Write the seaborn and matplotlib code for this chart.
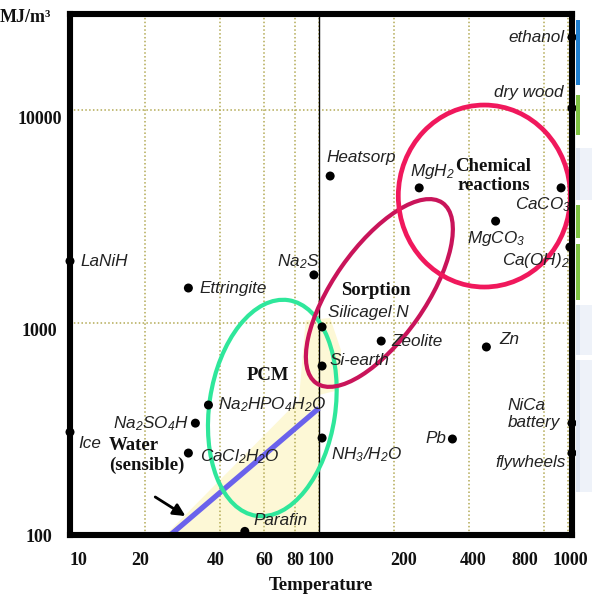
import numpy as np
import pandas as pd
import matplotlib
matplotlib.use("Agg")
import matplotlib.pyplot as plt
import seaborn as sns
from matplotlib.patches import Ellipse, Polygon, Rectangle
from matplotlib.transforms import ScaledTranslation

# ---- data -------------------------------------------------------------
materials = ["ethanol", "dry wood", "CaCO3", "Ca(OH)2", "MgH2", "MgCO3",
             "Heatsorp", "Na2S", "LaNiH", "Ettringite", "Silicagel N",
             "Zeolite", "Si-earth", "Zn", "Na2HPO4H2O", "Na2SO4H", "Ice",
             "CaCl2H2O", "NH3/H2O", "Pb", "NiCa battery", "flywheels",
             "Parafin"]
temperature = [1040, 1040, 940, 1020, 253, 513,
               111, 95.5, 10, 29.9, 103,
               178, 103, 471, 36, 31.9, 10,
               29.9, 103, 344, 1040, 1040,
               50.4]
energy_density = [22000, 10200, 4300, 2265, 4300, 3000,
                  4890, 1675, 1945, 1453, 953,
                  818, 624, 767, 409, 336, 305,
                  243, 286, 283, 336, 243,
                  104]
label_text = ["ethanol", "dry wood", "CaCO$_3$", "Ca(OH)$_2$", "MgH$_2$",
              "MgCO$_3$", "Heatsorp", "Na$_2$S", "LaNiH", "Ettringite",
              "Silicagel N", "Zeolite", "Si-earth", "Zn",
              "Na$_2$HPO$_4$H$_2$O", "Na$_2$SO$_4$H", "Ice",
              "CaCl$_2$H$_2$O", "NH$_3$/H$_2$O", "Pb", "NiCa\nbattery",
              "flywheels", "Parafin"]

# sensible heat of water (line) and the group outlines
water_temp = [25.3, 100]
water_density = [100, 395]

group_names = ["PCM", "Sorption", "Chemical\nreactions"]
group_center_temp = [65, 175, 462]
group_center_density = [396, 1377, 3937]

x_ticks = [10, 20, 40, 60, 80, 100, 200, 400, 800, 1000]
x_tick_labels = ["10", "20", "40", "60", "80", "100", "200", "400", "800", "1000"]
y_ticks = [100, 1000, 10000]
y_tick_labels = ["100", "1000", "10000"]

# ---- styling ----------------------------------------------------------
# label placement (offset in pixels from the point, horizontal alignment)
label_offset = [(-8, 0), (-8, 16), (10, -17), (0, -13), (13, 16), (0, -17),
                (-4, 19), (5, 13), (10, 0), (11, 0), (6, 14),
                (10, 0), (7, 6), (13, 7), (10, 0), (-7, 0), (8, -11),
                (12, -4), (9, -17), (-6, 0), (-12, 9), (-6, -9),
                (9, 11)]
label_ha = ["right", "right", "right", "right", "center", "center",
            "left", "right", "left", "left", "left",
            "left", "left", "left", "left", "right", "left",
            "left", "left", "right", "right", "right",
            "left"]
# tick label nudges (pixels)
x_tick_shift = [8, -5, -4, 1, 1, 2, 10, 4, -19, 3]
y_tick_shift = [(-5, 0), (0, -7), (5, -7)]

sns.set_theme(style="white")
plt.rcParams["mathtext.fontset"] = "custom"
plt.rcParams["mathtext.rm"] = "Liberation Sans:italic"
plt.rcParams["mathtext.it"] = "Liberation Sans:italic"
plt.rcParams["mathtext.sf"] = "Liberation Sans:italic"

serif_bold = dict(family="Liberation Serif", weight="bold")

fig = plt.figure(figsize=(5.92, 6.03), dpi=100)
ax = fig.add_axes([70 / 592, 68 / 603, 502 / 592, 521 / 603])
ax.set_xscale("log")
ax.set_yscale("log")
ax.set_xlim(10, 1040)
ax.set_ylim(100, 28300)

# pale shaded zone around 100 degC
shade = Polygon([(24.2, 100), (100, 100), (100, 456), (120.5, 481),
                 (122.6, 743), (111, 1050), (88.5, 1023), (83.1, 431)],
                closed=True, facecolor="#fdf8d6", edgecolor="none", zorder=0)
ax.add_patch(shade)

# grid
ax.xaxis.set_major_locator(matplotlib.ticker.FixedLocator(x_ticks))
ax.xaxis.set_major_formatter(matplotlib.ticker.FixedFormatter(x_tick_labels))
ax.xaxis.set_minor_locator(matplotlib.ticker.NullLocator())
ax.yaxis.set_major_locator(matplotlib.ticker.FixedLocator(y_ticks))
ax.yaxis.set_major_formatter(matplotlib.ticker.FixedFormatter(y_tick_labels))
ax.yaxis.set_minor_locator(matplotlib.ticker.NullLocator())
ax.grid(True, which="major", linestyle=(0, (1, 1.5)), color="#b3aa55",
        linewidth=1.1, zorder=1)
ax.set_axisbelow(True)
ax.axvline(100, color="black", linewidth=1.0, zorder=2)

for side in ["left", "right", "top", "bottom"]:
    ax.spines[side].set_visible(True)
    ax.spines[side].set_color("black")
    ax.spines[side].set_linewidth(4.4)
    ax.spines[side].set_zorder(6)

ax.tick_params(axis="x", length=0, pad=12)
ax.tick_params(axis="y", length=0, pad=9)

# water line + arrow
sns.lineplot(x=water_temp, y=water_density, ax=ax, color="#6a62ec",
             linewidth=3.8, zorder=3)
ax.lines[-1].set_solid_capstyle("butt")
ax.annotate("", xy=(29.1, 122.8), xytext=(22, 151),
            arrowprops=dict(arrowstyle="-|>", color="black", lw=2.0,
                            mutation_scale=18, shrinkA=0, shrinkB=0),
            zorder=4)

# group outlines (sizes in inches, angles in degrees)
outline_w = [1.26, 2.20, 1.72]
outline_h = [2.18, 0.92, 1.82]
outline_angle = [-8.5, 55, 0]
outline_color = ["#2fe79b", "#c9145a", "#f0185c"]
outline_lw = [3.0, 3.0, 3.4]
for i in range(3):
    e = Ellipse((0, 0), outline_w[i], outline_h[i], angle=outline_angle[i],
                transform=fig.dpi_scale_trans + ScaledTranslation(
                    group_center_temp[i], group_center_density[i], ax.transData),
                fill=False, edgecolor=outline_color[i], linewidth=outline_lw[i],
                zorder=3)
    ax.add_patch(e)

# points
df = pd.DataFrame({"material": materials, "temperature": temperature,
                   "energy_density": energy_density})
sns.scatterplot(data=df, x="temperature", y="energy_density", ax=ax,
                color="black", s=42, edgecolor="none", zorder=5, legend=False)
for coll in ax.collections:
    coll.set_clip_on(False)
ax.set_xlabel("Temperature", fontsize=13.5, labelpad=6, color="#111111",
              **serif_bold)
ax.set_ylabel("")

# tick labels: bold serif, slightly nudged
for lab, dx in zip(ax.get_xticklabels(), x_tick_shift):
    lab.set_fontfamily("Liberation Serif")
    lab.set_fontweight("bold")
    lab.set_fontsize(13)
    lab.set_color("#111111")
    lab.set_transform(lab.get_transform() +
                      ScaledTranslation(dx / 100, 0, fig.dpi_scale_trans))
for lab, (dx, dy) in zip(ax.get_yticklabels(), y_tick_shift):
    lab.set_fontfamily("Liberation Serif")
    lab.set_fontweight("bold")
    lab.set_fontsize(13)
    lab.set_color("#111111")
    lab.set_transform(lab.get_transform() +
                      ScaledTranslation(dx / 100, dy / 100, fig.dpi_scale_trans))

for i in range(len(materials)):
    ax.annotate(label_text[i], (temperature[i], energy_density[i]),
                xytext=label_offset[i], textcoords="offset pixels",
                ha=label_ha[i], va="center", multialignment="left",
                fontsize=12.3, family="Liberation Sans", style="italic",
                color="#222222", linespacing=1.15, zorder=5)

# group names
ax.text(62.2, 566, group_names[0], ha="center", va="center", fontsize=13.5,
        color="#111111", zorder=5, **serif_bold)
ax.text(170, 1422, group_names[1], ha="center", va="center", fontsize=13.5,
        color="#111111", zorder=5, **serif_bold)
ax.text(503, 4890, group_names[2], ha="center", va="center", fontsize=13.5,
        color="#111111", linespacing=1.1, zorder=5, **serif_bold)
ax.text(14.3, 236, "Water\n(sensible)", ha="left", va="center",
        fontsize=13.5, color="#111111", linespacing=1.2, zorder=5,
        **serif_bold)

# y-axis unit
fig.text(0.0, 1 - 18 / 603, "MJ/m³", ha="left", va="center", fontsize=13,
         color="#111111", **serif_bold)

# neighbouring slide panels at the right edge
panels = [(20, 85, "#1f7fd0", "#ffffff"), (95, 135, "#7fc242", "#ffffff"),
          (148, 200, "#dfe6f3", "#eef2f9"), (205, 238, "#7fc242", "#ffffff"),
          (244, 300, "#7fc242", "#ffffff"), (305, 355, "#dfe6f3", "#eef2f9"),
          (360, 492, "#dfe6f3", "#eef2f9")]
for top, bottom, edge, fill in panels:
    fig.patches.append(Rectangle((580 / 592, 1 - bottom / 603), 12 / 592,
                                 (bottom - top) / 603, transform=fig.transFigure,
                                 facecolor=fill, edgecolor="none"))
    fig.patches.append(Rectangle((576 / 592, 1 - bottom / 603), 4 / 592,
                                 (bottom - top) / 603, transform=fig.transFigure,
                                 facecolor=edge, edgecolor="none"))

fig.savefig("out.png", dpi=100)
